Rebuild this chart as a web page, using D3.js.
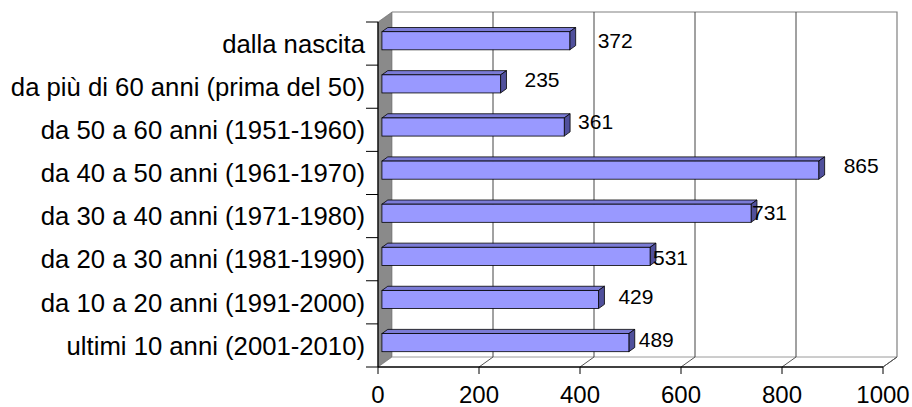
<!DOCTYPE html>
<html>
<head>
<meta charset="utf-8">
<script src="https://cdn.jsdelivr.net/npm/d3@7"></script>
<style>
  body { margin: 0; background: #fff; }
  svg { display: block; font-family: "Liberation Sans", Arial, sans-serif; }
</style>
</head>
<body>
<svg></svg>
<script>
const width = 912;
const height = 407;

// data
const categories = [
    'dalla nascita',
    'da più di 60 anni (prima del 50)',
    'da 50 a 60 anni (1951-1960)',
    'da 40 a 50 anni (1961-1970)',
    'da 30 a 40 anni (1971-1980)',
    'da 20 a 30 anni (1981-1990)',
    'da 10 a 20 anni (1991-2000)',
    'ultimi 10 anni (2001-2010)'
];
const values = [372, 235, 361, 865, 731, 531, 429, 489];
const xTicks = [0, 200, 400, 600, 800, 1000];

// small nudges for the value labels (Excel placed them a bit irregularly)
const labelNudgeX = [22, 18, 8, 19, -5, -3, 14, 4];
const labelNudgeY = [0, -4, -5, -4, -1, 1, -3, -3];

// front plane of the 3d box
const plot = { left: 378, right: 883, top: 22, bottom: 367 };
const depth = { dx: 14, dy: -10 };
const off = t => [depth.dx * t, depth.dy * t];

const svg = d3.select('svg')
    .attr('width', width)
    .attr('height', height);

const x = d3.scaleLinear().domain([0, 1000]).range([plot.left, plot.right]);
const y = d3.scaleBand().domain(categories)
    .range([plot.top, plot.bottom])
    .paddingInner(0.58)
    .paddingOuter(0.29);

const line = d3.line();
const [bx, by] = off(1);

// left wall
svg.append('path')
    .attr('d', line([[plot.left, plot.top], [plot.left + bx, plot.top + by],
        [plot.left + bx, plot.bottom + by], [plot.left, plot.bottom]]) + 'Z')
    .attr('fill', '#8a8a8a')
    .attr('stroke', '#666')
    .attr('stroke-width', 0.6);

// back wall outline
svg.append('path')
    .attr('d', line([[plot.left + bx, plot.top + by], [plot.right + bx, plot.top + by],
        [plot.right + bx, plot.bottom + by]]))
    .attr('fill', 'none')
    .attr('stroke', '#808080')
    .attr('stroke-width', 1.2);

// floor back edge
svg.append('line')
    .attr('x1', plot.left + bx).attr('x2', plot.right + bx)
    .attr('y1', plot.bottom + by).attr('y2', plot.bottom + by)
    .attr('stroke', '#9a9a9a');

// gridlines on back wall + floor
const grid = svg.append('g');
xTicks.slice(1).forEach(t => {
    if (t < 1000) {
        grid.append('line')
            .attr('x1', x(t) + bx).attr('x2', x(t) + bx)
            .attr('y1', plot.top + by).attr('y2', plot.bottom + by)
            .attr('stroke', '#444');
    }
    grid.append('line')
        .attr('x1', x(t)).attr('y1', plot.bottom)
        .attr('x2', x(t) + bx).attr('y2', plot.bottom + by)
        .attr('stroke', '#555');
});

// bars
const tf = 0.28, tb = 0.7;
const [fdx, fdy] = off(tf);
const [kdx, kdy] = off(tb);
const bars = svg.append('g').selectAll('g')
    .data(categories)
    .enter().append('g');

bars.each(function (c, i) {
    const g = d3.select(this);
    const x0 = x(0) + fdx;
    const x1 = x(values[i]) + fdx;
    const y0 = y(c) + fdy;
    const y1 = y0 + y.bandwidth();
    const sx = kdx - fdx, sy = kdy - fdy;

    // top face
    g.append('path')
        .attr('d', line([[x0, y0], [x0 + sx, y0 + sy], [x1 + sx, y0 + sy], [x1, y0]]) + 'Z')
        .attr('fill', '#7b7bd6').attr('stroke', '#000').attr('stroke-width', 0.8)
        .attr('stroke-linejoin', 'round');
    // side face
    g.append('path')
        .attr('d', line([[x1, y0], [x1 + sx, y0 + sy], [x1 + sx, y1 + sy], [x1, y1]]) + 'Z')
        .attr('fill', '#50509c').attr('stroke', '#000').attr('stroke-width', 0.8)
        .attr('stroke-linejoin', 'round');
    // front face
    g.append('rect')
        .attr('x', x0).attr('y', y0)
        .attr('width', x1 - x0).attr('height', y1 - y0)
        .attr('fill', '#9999ff').attr('stroke', '#000').attr('stroke-width', 0.8);

    g.append('text')
        .attr('x', x1 + sx + labelNudgeX[i])
        .attr('y', (y0 + y1) / 2 + labelNudgeY[i])
        .attr('dy', '0.35em')
        .attr('font-size', 21)
        .attr('fill', '#000')
        .text(values[i]);
});

// left axis
const yAxis = svg.append('g');
yAxis.append('line')
    .attr('x1', plot.left).attr('x2', plot.left)
    .attr('y1', plot.top).attr('y2', plot.bottom)
    .attr('stroke', '#000').attr('stroke-width', 1.3);
const step = y.step();
d3.range(categories.length + 1).forEach(k => {
    yAxis.append('line')
        .attr('x1', plot.left - 12).attr('x2', plot.left)
        .attr('y1', plot.top + k * step).attr('y2', plot.top + k * step)
        .attr('stroke', '#000');
});
yAxis.selectAll('text')
    .data(categories)
    .enter().append('text')
    .attr('x', plot.left - 13)
    .attr('y', d => y(d) + y.bandwidth() / 2)
    .attr('dy', '0.36em')
    .attr('text-anchor', 'end')
    .attr('font-size', 25.7)
    .text(d => d);

// bottom axis
const xAxis = svg.append('g');
xAxis.append('line')
    .attr('x1', plot.left).attr('x2', plot.right)
    .attr('y1', plot.bottom).attr('y2', plot.bottom)
    .attr('stroke', '#000').attr('stroke-width', 1.3);
xAxis.append('line')
    .attr('x1', plot.right).attr('y1', plot.bottom)
    .attr('x2', plot.right + bx).attr('y2', plot.bottom + by)
    .attr('stroke', '#555');
xTicks.forEach(t => {
    xAxis.append('line')
        .attr('x1', x(t)).attr('x2', x(t))
        .attr('y1', plot.bottom).attr('y2', plot.bottom + 7)
        .attr('stroke', '#000');
});
xAxis.selectAll('text')
    .data(xTicks)
    .enter().append('text')
    .attr('x', d => x(d))
    .attr('y', 403)
    .attr('text-anchor', 'middle')
    .attr('font-size', 24)
    .text(d => d);
</script>
</body>
</html>
